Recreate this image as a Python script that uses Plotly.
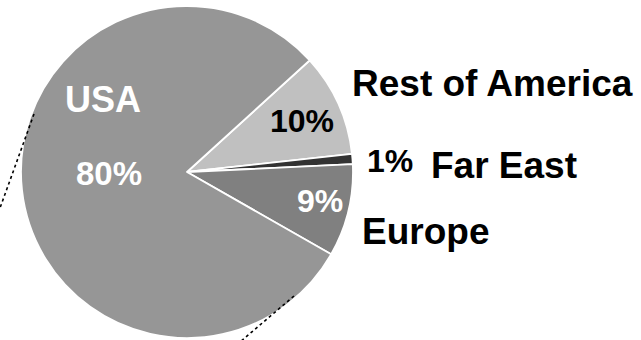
import plotly.graph_objects as go

# Market share by region
regions = ["Rest of America", "Far East", "Europe", "USA"]
shares = [10, 1, 9, 80]
slice_colors = ["#c0c0c0", "#333333", "#808080", "#969696"]

W, H = 641, 340


def px(x, y):
    """Pixel position -> paper coordinates."""
    return x / W, 1 - y / H


fig = go.Figure(
    go.Pie(
        labels=regions,
        values=shares,
        sort=False,
        direction="clockwise",
        rotation=47.7,
        textinfo="none",
        hoverinfo="label+percent",
        marker=dict(colors=slice_colors, line=dict(color="white", width=1.8)),
        domain=dict(x=[21 / W, 353 / W], y=[2 / H, 334 / H]),
        showlegend=False,
    )
)

share = dict(zip(regions, shares))
FONT = "Arial, Liberation Sans, sans-serif"

# (text, x px, y px, size, colour)
labels = [
    ("USA", 103, 99, 36, "white"),
    (f"{share['USA']}%", 109, 173, 33, "white"),
    (f"{share['Rest of America']}%", 302, 121, 32, "black"),
    (f"{share['Europe']}%", 320, 201, 32, "white"),
    (f"{share['Far East']}%", 390, 161, 32, "black"),
    ("Rest of America", 492, 83, 37, "black"),
    ("Far East", 504, 165, 37, "black"),
    ("Europe", 425, 231, 37, "black"),
]

annotations = []
for text, x, y, size, color in labels:
    ax, ay = px(x, y)
    annotations.append(
        dict(
            text=f"<b>{text}</b>",
            x=ax,
            y=ay,
            xref="paper",
            yref="paper",
            xanchor="center",
            yanchor="middle",
            showarrow=False,
            font=dict(family=FONT, size=size, color=color),
        )
    )

# dotted leader lines
leaders = [((34, 114), (0, 208)), ((294, 296), (240, 342))]
shapes = []
for (x0, y0), (x1, y1) in leaders:
    a0, b0 = px(x0, y0)
    a1, b1 = px(x1, y1)
    shapes.append(
        dict(
            type="line",
            xref="paper",
            yref="paper",
            x0=a0,
            y0=b0,
            x1=a1,
            y1=b1,
            line=dict(color="black", width=1.6, dash="dot"),
        )
    )

fig.update_layout(
    width=W,
    height=H,
    margin=dict(l=0, r=0, t=0, b=0),
    paper_bgcolor="white",
    plot_bgcolor="white",
    annotations=annotations,
    shapes=shapes,
)

fig.write_html("out.html")
